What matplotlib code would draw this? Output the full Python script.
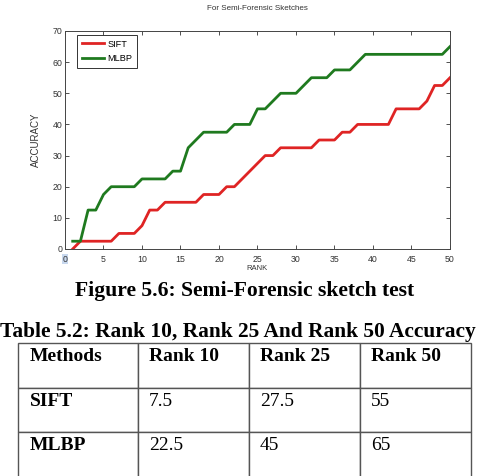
import matplotlib
matplotlib.use('Agg')
import matplotlib.pyplot as plt

# data
rank = list(range(1, 51))
sift = [0, 2.5, 2.5, 2.5, 2.5, 2.5, 5, 5, 5, 7.5,
        12.5, 12.5, 15, 15, 15, 15, 15, 17.5, 17.5, 17.5,
        20, 20, 22.5, 25, 27.5, 30, 30, 32.5, 32.5, 32.5,
        32.5, 32.5, 35, 35, 35, 37.5, 37.5, 40, 40, 40,
        40, 40, 45, 45, 45, 45, 47.5, 52.5, 52.5, 55]
mlbp = [2.5, 2.5, 12.5, 12.5, 17.5, 20, 20, 20, 20, 22.5,
        22.5, 22.5, 22.5, 25, 25, 32.5, 35, 37.5, 37.5, 37.5,
        37.5, 40, 40, 40, 45, 45, 47.5, 50, 50, 50,
        52.5, 55, 55, 55, 57.5, 57.5, 57.5, 60, 62.5, 62.5,
        62.5, 62.5, 62.5, 62.5, 62.5, 62.5, 62.5, 62.5, 62.5, 65]

xticks = list(range(0, 51, 5))
yticks = list(range(0, 71, 10))

table_cols = ['Methods', 'Rank 10', 'Rank 25', 'Rank 50']
table_rows = [['SIFT', '7.5', '27.5', '55'],
              ['MLBP', '22.5', '45', '65']]

W, H = 485, 476
fig = plt.figure(figsize=(W / 100, H / 100), dpi=100)
fig.patch.set_facecolor('white')
sans = 'Liberation Sans'
serif = 'Liberation Serif'

# plot axes
ax = fig.add_axes([65 / W, 1 - 249 / H, 385 / W, 218 / H])
ax.plot(rank, sift, color='#df2424', lw=2.0, label='SIFT')
ax.plot(rank, mlbp, color='#1f7a1f', lw=2.0, label='MLBP')
ax.set_xlim(0, 50)
ax.set_ylim(0, 70)
ax.set_xticks(xticks)
ax.set_yticks(yticks)
ax.tick_params(direction='in', length=3, width=0.6, colors='#333333',
               labelsize=6.3, top=True, right=True, pad=2)
ax.tick_params(axis='x', pad=4)
for lab in ax.get_xticklabels() + ax.get_yticklabels():
    lab.set_family(sans)
for sp in ax.spines.values():
    sp.set_color('#444444')
    sp.set_linewidth(0.7)

ax.set_xlabel('RANK', fontsize=5.5, color='#333333', family=sans)
ax.xaxis.set_label_coords(0.5, -0.075)
ax.set_ylabel('ACCURACY', fontsize=7, color='#333333', family=sans)
ax.yaxis.set_label_coords(-24 / 385, 0.5)

ax.get_xticklabels()[0].set_bbox(dict(facecolor='#c8d8ee', edgecolor='none', pad=0.6))

leg = ax.legend(loc='upper left', bbox_to_anchor=(12 / 385, 1 - 4 / 218),
                borderaxespad=0, prop={'family': sans, 'size': 6.6},
                fancybox=False, framealpha=1, edgecolor='#333333',
                handlelength=2.4, handletextpad=0.38, borderpad=0.5,
                labelspacing=0.6)
leg.get_frame().set_linewidth(0.7)

fig.text(257 / W, 1 - 9 / H, 'For Semi-Forensic Sketches', ha='center', va='center',
         fontsize=5.8, color='#333333', family=sans)

# captions
fig.text(245 / W, 1 - 291 / H, 'Figure 5.6: Semi-Forensic sketch test',
         ha='center', va='center', fontsize=15.6, fontweight='bold', family=serif)
fig.text(0, 1 - 332 / H, 'Table 5.2: Rank 10, Rank 25 And Rank 50 Accuracy',
         ha='left', va='center', fontsize=15.4, fontweight='bold', family=serif)

# table
tax = fig.add_axes([0, 0, 1, 1])
tax.axis('off')
cell_text = [table_cols] + table_rows
col_w = [120 / W, 111 / W, 111 / W, 111 / W]
tab = tax.table(cellText=cell_text, colWidths=col_w, cellLoc='left',
                bbox=[18 / W, 1 - 476.5 / H, sum(col_w), 133.5 / H])
tab.auto_set_font_size(False)
for (r, c), cell in tab.get_celld().items():
    cell.set_edgecolor('#555555')
    cell.set_linewidth(1.0)
    t = cell.get_text()
    t.set_fontsize(14)
    t.set_family(serif)
    t.set_va('bottom')
    if r == 0 or c == 0:
        t.set_fontweight('bold')

fig.savefig('out.png', dpi=100)
